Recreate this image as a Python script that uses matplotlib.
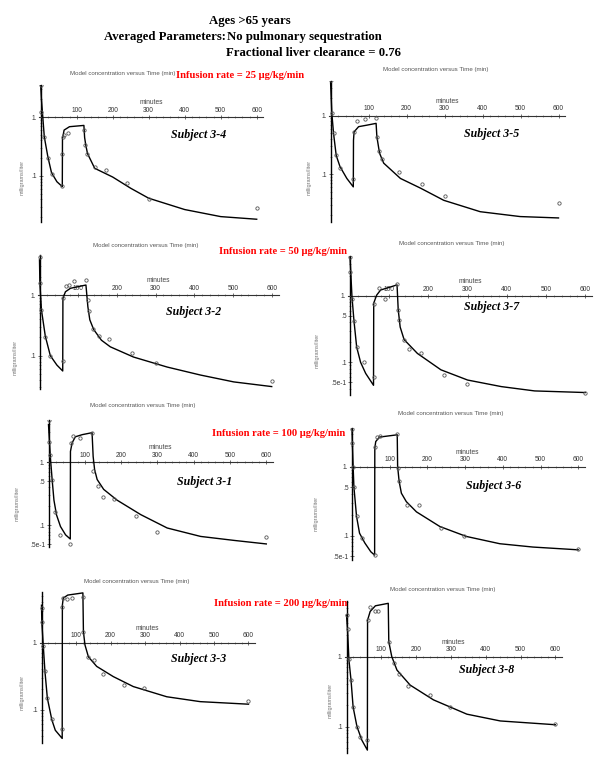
import matplotlib
matplotlib.use('Agg')
import matplotlib.pyplot as plt
from matplotlib.ticker import MultipleLocator, NullFormatter, LogLocator

# ---- data (time in min, concentration in mg/l) ----
# Subject 3-4 (25 ug/kg/min)
t_mod_34 = [0, 2, 5, 10, 20, 30, 45, 60, 60.5, 65, 80, 120, 122, 125, 130, 150, 200, 250, 300, 400, 500, 600]
c_mod_34 = [3.5, 2.0, 1.16, 0.46, 0.21, 0.114, 0.080, 0.066, 0.43, 0.60, 0.685, 0.72, 0.45, 0.34, 0.24, 0.135, 0.096, 0.062, 0.042, 0.027, 0.0205, 0.0185]
t_obs_34 = [0, 2, 10, 20, 30, 60, 60, 62, 65, 75, 120, 124, 128, 150, 180, 240, 300, 600]
c_obs_34 = [3.5, 1.2, 0.46, 0.2, 0.11, 0.068, 0.24, 0.45, 0.5, 0.54, 0.6, 0.34, 0.24, 0.14, 0.126, 0.077, 0.041, 0.029]

# Subject 3-5 (25 ug/kg/min)
t_mod_35 = [0, 3.5, 8, 15, 25, 43, 60, 60.5, 62, 74, 96, 120, 122, 129, 140, 184, 237, 298, 394, 499, 600]
c_mod_35 = [4.0, 1.1, 0.5, 0.21, 0.135, 0.085, 0.061, 0.38, 0.53, 0.65, 0.69, 0.74, 0.44, 0.23, 0.155, 0.085, 0.058, 0.036, 0.023, 0.019, 0.018]
t_obs_35 = [0, 3.5, 8, 15, 25, 60, 62, 70, 90, 120, 122, 128, 135, 180, 240, 300, 600]
c_obs_35 = [4.0, 1.1, 0.5, 0.21, 0.13, 0.083, 0.53, 0.81, 0.87, 0.93, 0.44, 0.25, 0.18, 0.108, 0.068, 0.043, 0.033]

# Subject 3-2 (50 ug/kg/min)
t_mod_32 = [0, 1, 5, 15, 28, 45, 60, 60.5, 67, 80, 120, 125, 130, 140, 160, 183, 243, 330, 416, 502, 600]
c_mod_32 = [3.8, 1.56, 0.57, 0.21, 0.10, 0.07, 0.056, 0.88, 1.13, 1.29, 1.46, 0.64, 0.39, 0.27, 0.18, 0.14, 0.095, 0.065, 0.048, 0.037, 0.031]
t_obs_32 = [0, 1, 5, 15, 28, 60, 60, 68, 77, 90, 120, 125, 127, 138, 153, 180, 240, 300, 600]
c_obs_32 = [4.3, 1.56, 0.57, 0.2, 0.1, 0.083, 0.88, 1.42, 1.46, 1.7, 1.8, 0.83, 0.55, 0.28, 0.21, 0.19, 0.11, 0.076, 0.039]

# Subject 3-7 (50 ug/kg/min)
t_mod_37 = [0, 5, 10, 17, 27, 40, 60, 60.5, 68, 78, 120, 123, 128, 138, 172, 232, 300, 386, 471, 600]
c_mod_37 = [3.9, 0.98, 0.43, 0.17, 0.10, 0.068, 0.045, 0.78, 1.03, 1.23, 1.47, 0.62, 0.34, 0.22, 0.136, 0.077, 0.054, 0.043, 0.037, 0.035]
t_obs_37 = [0, 0, 4, 10, 17, 36, 60, 60, 75, 89, 120, 123, 125, 138, 151, 181, 241, 299, 600]
c_obs_37 = [3.9, 2.3, 0.91, 0.42, 0.17, 0.1, 0.061, 0.77, 1.33, 0.89, 1.5, 0.62, 0.43, 0.22, 0.16, 0.14, 0.064, 0.047, 0.035]

# Subject 3-1 (100 ug/kg/min)
t_mod_31 = [0, 5, 10, 15, 22, 33, 47, 60, 60.5, 65, 74, 93, 120, 123, 127, 134, 152, 189, 254, 327, 419, 511, 600]
c_mod_31 = [3.9, 1.22, 0.53, 0.25, 0.147, 0.096, 0.071, 0.061, 1.47, 2.0, 2.5, 2.7, 2.9, 1.22, 0.76, 0.53, 0.37, 0.25, 0.148, 0.091, 0.067, 0.058, 0.051]
t_obs_31 = [0, 0, 3, 10, 18, 31, 60, 62, 68, 86, 120, 123, 136, 151, 180, 240, 299, 600]
c_obs_31 = [4.6, 2.07, 1.27, 0.52, 0.165, 0.07, 0.05, 2.0, 2.6, 2.4, 2.9, 0.71, 0.42, 0.28, 0.26, 0.14, 0.08, 0.065]

# Subject 3-6 (100 ug/kg/min)
t_mod_36 = [0, 1, 3, 5, 12, 20, 34, 50, 60, 60.5, 63, 73, 120, 121, 125, 131, 144, 171, 233, 303, 392, 480, 600]
c_mod_36 = [3.6, 2.2, 1.0, 0.51, 0.19, 0.108, 0.078, 0.058, 0.052, 1.85, 2.3, 2.67, 2.88, 1.0, 0.61, 0.41, 0.31, 0.22, 0.135, 0.097, 0.076, 0.068, 0.062]
t_obs_36 = [0, 1, 3, 5, 12, 26, 60, 60, 66, 73, 120, 121, 125, 146, 177, 237, 297, 600]
c_obs_36 = [3.5, 2.2, 1.0, 0.51, 0.19, 0.091, 0.053, 1.9, 2.7, 2.8, 2.95, 0.95, 0.62, 0.28, 0.28, 0.128, 0.1, 0.063]

# Subject 3-3 (200 ug/kg/min)
t_mod_33 = [0, 1, 5, 10, 17, 30, 40, 60, 60.5, 63, 76, 120, 121.5, 126, 136, 160, 208, 266, 363, 460, 600]
c_mod_33 = [3.6, 2.0, 0.92, 0.37, 0.147, 0.070, 0.049, 0.037, 3.6, 4.6, 5.1, 5.5, 1.45, 0.92, 0.61, 0.44, 0.31, 0.22, 0.155, 0.131, 0.12]
t_obs_33 = [0, 1, 5, 10, 17, 30, 60, 60, 63, 75, 87, 120, 121.5, 136, 152, 179, 239, 297, 600]
c_obs_33 = [3.3, 2.0, 0.88, 0.37, 0.147, 0.072, 0.052, 3.4, 4.6, 4.4, 4.6, 4.8, 1.45, 0.61, 0.55, 0.34, 0.23, 0.21, 0.135]

# Subject 3-8 (200 ug/kg/min)
t_mod_38 = [0, 3, 7, 13, 19, 30, 44, 60, 60.5, 68, 83, 120, 121.5, 130, 145, 183, 250, 346, 442, 600]
c_mod_38 = [3.9, 2.4, 0.89, 0.46, 0.19, 0.1, 0.064, 0.046, 3.3, 4.4, 5.3, 5.75, 1.63, 1.0, 0.64, 0.39, 0.24, 0.15, 0.12, 0.106]
t_obs_38 = [0, 3, 7, 13, 19, 30, 40, 60, 62, 68, 82, 90, 122, 136, 150, 178, 239, 298, 600]
c_obs_38 = [3.9, 2.5, 0.92, 0.46, 0.19, 0.1, 0.07, 0.064, 3.3, 5.1, 4.4, 4.4, 1.63, 0.8, 0.56, 0.38, 0.28, 0.19, 0.11]

subjects = ['Subject 3-4', 'Subject 3-5', 'Subject 3-2', 'Subject 3-7',
            'Subject 3-1', 'Subject 3-6', 'Subject 3-3', 'Subject 3-8']
infusion_labels = ['Infusion rate = 25 \u00b5g/kg/min', 'Infusion rate = 50 \u00b5g/kg/min',
                   'Infusion rate = 100 \u00b5g/kg/min', 'Infusion rate = 200 \u00b5g/kg/min']
x_ticks = [100, 200, 300, 400, 500, 600]
y_ticks_a = [1, 0.1]
y_labels_a = ['1.', '.1']
y_ticks_b = [1, 0.5, 0.1, 0.05]
y_labels_b = ['1.', '.5', '.1', '.5e-1']

W, H = 600, 776
fig = plt.figure(figsize=(6, 7.76), dpi=100)


def fx(px):
    return px / W


def fy(py):
    return 1 - py / H


# pixel layout: x of t=0, px per minute, y of c=1, px per decade, axis top, axis bottom
layout = [
    (40.7, 0.360, 117.0, 59.0, 85, 222),
    (330.5, 0.380, 115.7, 58.6, 81, 222),
    (39.5, 0.387, 295.0, 60.7, 255, 389),
    (350.0, 0.392, 296.0, 66.3, 256, 395),
    (48.5, 0.363, 462.0, 63.4, 420, 547),
    (352.0, 0.377, 466.5, 69.0, 428, 560),
    (41.5, 0.345, 642.5, 67.0, 592, 743),
    (346.5, 0.348, 656.5, 70.0, 601, 753),
]
title_pos = [(123, 73), (436, 70), (146, 246), (452, 243), (143, 406), (451, 414), (137, 582), (443, 589)]
ylabel_pos = [(22, 177), (309, 177), (15, 357), (317, 350), (17, 503), (316, 513), (22, 692), (330, 700)]
subject_pos = [(199, 135), (492, 134), (194, 312), (492, 307), (205, 482), (494, 486), (199, 659), (487, 670)]
infusion_pos = [(240, 75), (283, 252), (279, 433), (281, 603)]

mods = [(t_mod_34, c_mod_34), (t_mod_35, c_mod_35), (t_mod_32, c_mod_32), (t_mod_37, c_mod_37),
        (t_mod_31, c_mod_31), (t_mod_36, c_mod_36), (t_mod_33, c_mod_33), (t_mod_38, c_mod_38)]
obss = [(t_obs_34, c_obs_34), (t_obs_35, c_obs_35), (t_obs_32, c_obs_32), (t_obs_37, c_obs_37),
        (t_obs_31, c_obs_31), (t_obs_36, c_obs_36), (t_obs_33, c_obs_33), (t_obs_38, c_obs_38)]
detailed_y = [False, False, False, True, True, True, False, False]

small = dict(family='Liberation Sans', color='#555555')

for i in range(8):
    x0, k, y1, dec, top, bot = layout[i]
    left = x0 - 4 * k
    right = x0 + 618 * k
    ax = fig.add_axes([fx(left), fy(bot), (right - left) / W, (bot - top) / H])
    ax.set_facecolor('none')
    ax.set_xlim(-4, 618)
    ax.set_yscale('log')
    ax.set_ylim(10 ** ((y1 - bot) / dec), 10 ** ((y1 - top) / dec))

    ax.plot(mods[i][0], mods[i][1], color='black', lw=1.0, zorder=3)
    ax.plot(obss[i][0], obss[i][1], 'o', ms=2.4, mfc='none', mec='#555555', mew=0.6, zorder=4)

    # Maple-style crossing axes
    ax.spines['right'].set_visible(False)
    ax.spines['bottom'].set_visible(False)
    ax.spines['left'].set_position(('data', 0))
    ax.spines['top'].set_position(('data', 1))
    ax.spines['left'].set_linewidth(1.0)
    ax.spines['top'].set_linewidth(0.8)
    ax.spines['top'].set_color('#333333')

    ax.xaxis.set_ticks_position('top')
    ax.set_xticks(x_ticks)
    ax.set_xticklabels([str(v) for v in x_ticks])
    ax.xaxis.set_minor_locator(MultipleLocator(20))
    ax.tick_params(axis='x', which='major', direction='inout', length=3, width=0.5,
                   pad=1, labelsize=4.8, colors='#333333')
    ax.tick_params(axis='x', which='minor', direction='inout', length=1.5, width=0.4, colors='#555555')
    ax.set_xlabel('minutes', fontsize=4.8, color='#444444', labelpad=1.5, family='Liberation Sans')
    ax.xaxis.set_label_position('top')

    if detailed_y[i]:
        ax.set_yticks(y_ticks_b)
        ax.set_yticklabels(y_labels_b)
    else:
        ax.set_yticks(y_ticks_a)
        ax.set_yticklabels(y_labels_a)
    ax.yaxis.set_minor_locator(LogLocator(subs=range(2, 10)))
    ax.yaxis.set_minor_formatter(NullFormatter())
    ax.tick_params(axis='y', which='major', direction='inout', length=3, width=0.5,
                   pad=1, labelsize=4.8, colors='#333333')
    ax.tick_params(axis='y', which='minor', direction='inout', length=1.5, width=0.4, colors='#555555')
    for lab in ax.get_xticklabels() + ax.get_yticklabels():
        lab.set_family('Liberation Sans')

    fig.text(fx(title_pos[i][0]), fy(title_pos[i][1]), 'Model concentration versus Time (min)',
             fontsize=4.4, ha='center', va='center', **small)
    fig.text(fx(ylabel_pos[i][0]), fy(ylabel_pos[i][1]), 'milligrams/liter', rotation=90,
             fontsize=4.0, ha='center', va='center', family='Liberation Sans', color='#777777')
    fig.text(fx(subject_pos[i][0]), fy(subject_pos[i][1]), subjects[i], fontsize=8.6,
             ha='center', va='center', family='Liberation Serif', weight='bold', style='italic')

for lab, (x, y) in zip(infusion_labels, infusion_pos):
    fig.text(fx(x), fy(y), lab, fontsize=7.6, ha='center', va='center', color='red',
             family='Liberation Serif', weight='bold')

fig.text(fx(250), fy(21), 'Ages >65 years', fontsize=9.2, ha='center', va='center',
         family='Liberation Serif', weight='bold')
fig.text(fx(104), fy(37), 'Averaged Parameters:', fontsize=9.2, ha='left', va='center',
         family='Liberation Serif', weight='bold')
fig.text(fx(227), fy(37), 'No pulmonary sequestration', fontsize=9.2, ha='left', va='center',
         family='Liberation Serif', weight='bold')
fig.text(fx(226), fy(53), 'Fractional liver clearance = 0.76', fontsize=9.2, ha='left', va='center',
         family='Liberation Serif', weight='bold')

fig.savefig('out.png', dpi=100)
